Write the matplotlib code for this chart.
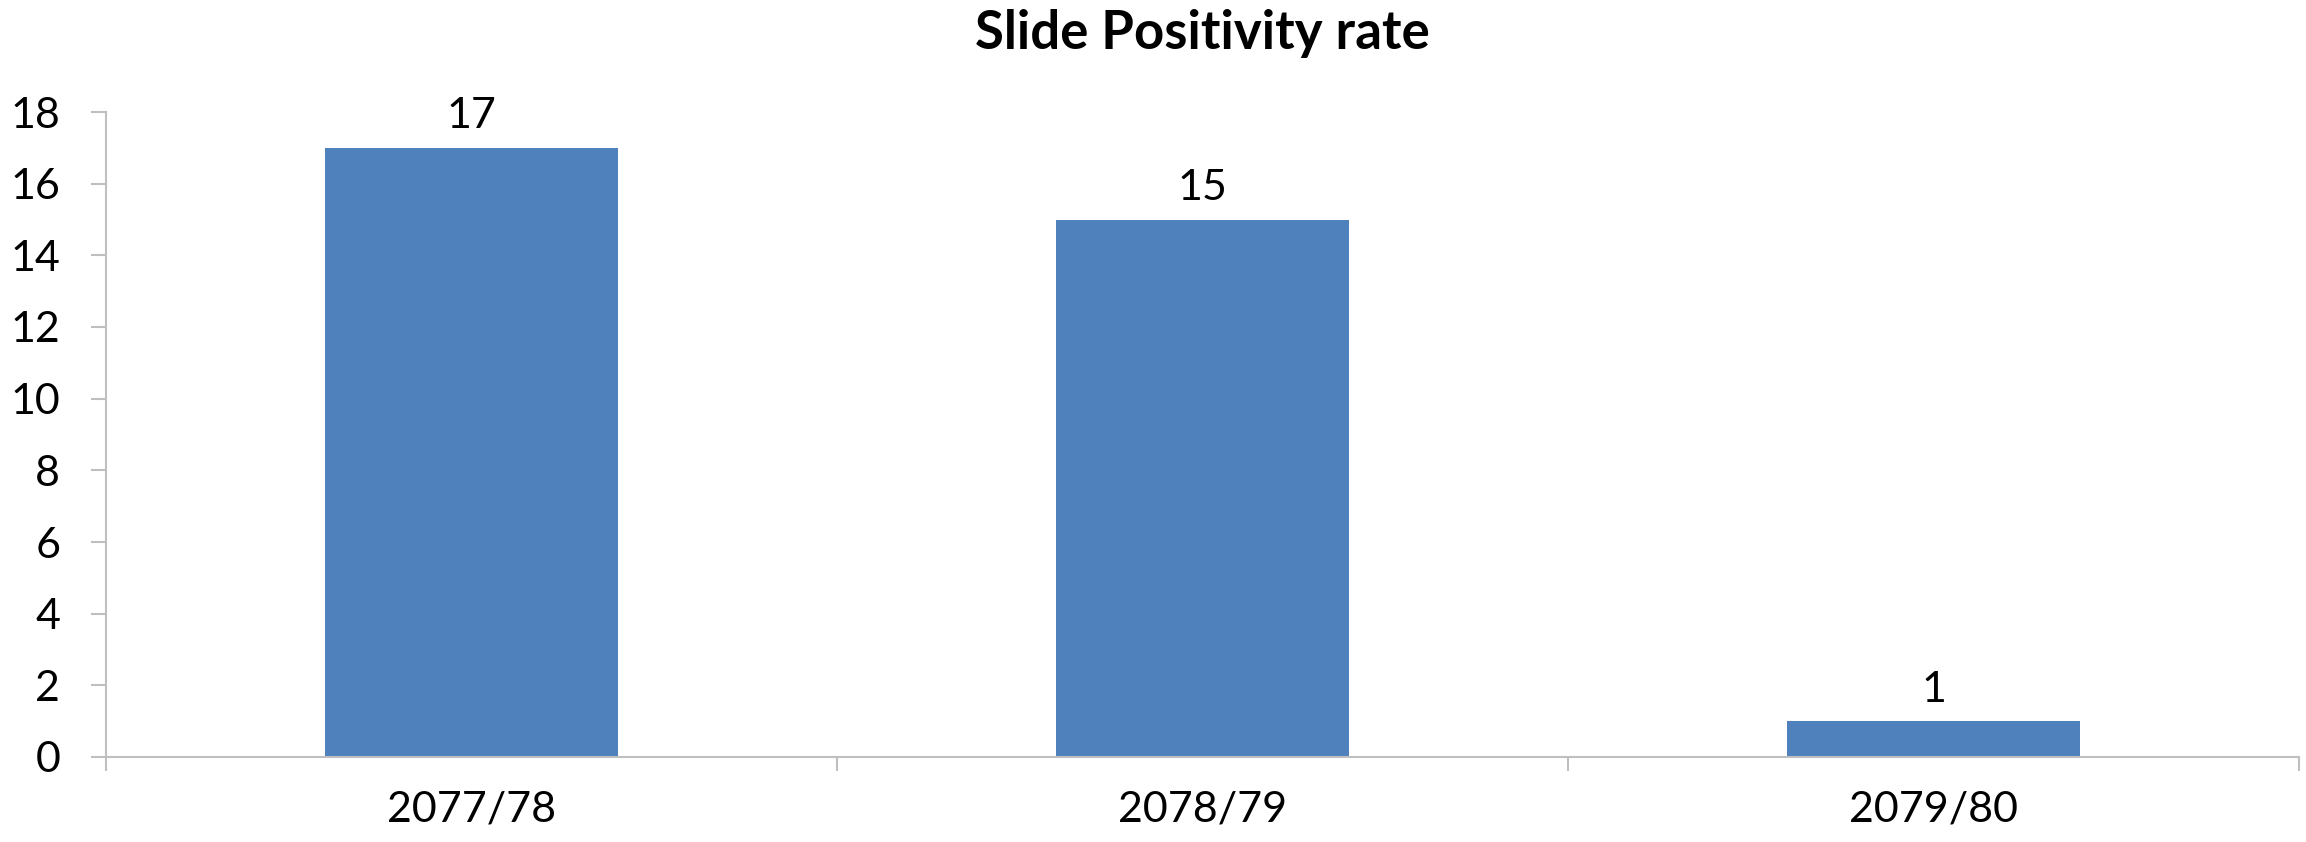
import matplotlib
matplotlib.use("Agg")
import matplotlib.pyplot as plt

categories = ["2077/78", "2078/79", "2079/80"]
values = [17, 15, 1]
yticks = [0, 2, 4, 6, 8, 10, 12, 14, 16, 18]

plt.rcParams['font.family'] = ['Lato', 'DejaVu Sans']

W, H = 2306, 842
fig = plt.figure(figsize=(W / 100, H / 100), dpi=100)
ax = fig.add_axes([106 / W, 1 - 757 / H, (2299 - 106) / W, (757 - 112) / H])

x = list(range(len(categories)))
bars = ax.bar(x, values, width=0.40, color="#4F81BD", zorder=2)
for xi, v in zip(x, values):
    ax.annotate(str(v), (xi, v), xytext=(0, 9), textcoords="offset points",
                ha="center", va="bottom", fontsize=31, color="black")

ax.set_xlim(-0.5, len(categories) - 0.5)
ax.set_ylim(0, 18)
ax.set_yticks(yticks)
ax.set_yticklabels([str(t) for t in yticks], fontsize=31)

# category ticks at boundaries
ax.set_xticks([i - 0.5 for i in range(len(categories) + 1)])
ax.set_xticklabels([])
ax.set_xticks(x, minor=True)
ax.set_xticklabels(categories, minor=True, fontsize=31)
ax.tick_params(axis="x", which="minor", length=0, pad=24)
ax.tick_params(axis="x", which="major", length=10, color="#BFBFBF", width=1.5)
ax.tick_params(axis="y", length=11, color="#BFBFBF", width=1.5, pad=22)

for s in ["top", "right"]:
    ax.spines[s].set_visible(False)
for s in ["left", "bottom"]:
    ax.spines[s].set_color("#BFBFBF")
    ax.spines[s].set_linewidth(1.5)

fig.text((106 + 2299) / 2 / W, 1 - 34 / H, "Slide Positivity rate", ha="center", va="center",
         fontsize=38, fontweight="bold")

fig.savefig("out.png", dpi=100)
